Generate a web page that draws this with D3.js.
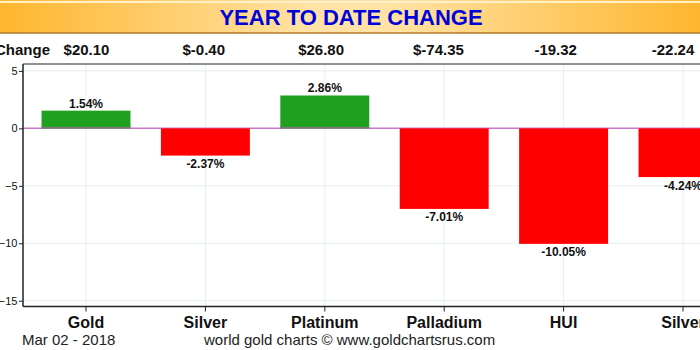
<!DOCTYPE html>
<html>
<head>
<meta charset="utf-8">
<script src="https://cdn.jsdelivr.net/npm/d3@7"></script>
<style>
  html, body { margin: 0; padding: 0; background: #fff; overflow: hidden; }
  svg { display: block; }
</style>
</head>
<body>
<svg id="chart" width="700" height="350"></svg>
<script>
// Year-to-date change by metal / index
const categories = ["Gold", "Silver", "Platinum", "Palladium", "HUI", "Silver"];
const pctChange = [1.54, -2.37, 2.86, -7.01, -10.05, -4.24];
const pctLabels = ["1.54%", "-2.37%", "2.86%", "-7.01%", "-10.05%", "-4.24%"];
const absChange = ["$20.10", "$-0.40", "$26.80", "$-74.35", "-19.32", "-22.24"];
const yTicks = [5, 0, -5, -10, -15];

const svg = d3.select("#chart");
const W = 700, H = 350;
const narrow = "'Liberation Sans Narrow', 'Arial Narrow', 'Liberation Sans', Arial, sans-serif";
const sans = "'Liberation Sans', Arial, sans-serif";

// Header band with an orange gradient
const defs = svg.append("defs");
const grad = defs.append("linearGradient").attr("id", "band").attr("x1", "0").attr("x2", "1");
grad.append("stop").attr("offset", "0%").attr("stop-color", "#ffb62e");
grad.append("stop").attr("offset", "45%").attr("stop-color", "#ffe3a6");
grad.append("stop").attr("offset", "55%").attr("stop-color", "#ffe3a6");
grad.append("stop").attr("offset", "100%").attr("stop-color", "#ffb62e");
svg.append("rect").attr("x", 0).attr("y", 0).attr("width", W).attr("height", 33).attr("fill", "url(#band)");
svg.append("line").attr("x1", 0).attr("x2", W).attr("y1", 2).attr("y2", 2).attr("stroke", "#fff0c8").attr("stroke-width", 2);
svg.append("line").attr("x1", 0).attr("x2", W).attr("y1", 33).attr("y2", 33).attr("stroke", "#b07a2a").attr("stroke-width", 1.5);

svg.append("text")
  .attr("x", 351).attr("y", 25)
  .attr("text-anchor", "middle")
  .attr("font-family", sans).attr("font-weight", "bold").attr("font-size", 22)
  .attr("fill", "#0000d8")
  .text("YEAR TO DATE CHANGE");

// Plot area
const plot = { left: 23, top: 64, bottom: 306.5, right: 743 };

const x = d3.scaleBand()
  .domain(d3.range(categories.length))
  .range([26.3, 26.3 + 119.4 * categories.length])
  .paddingInner(0.255)
  .paddingOuter(0.1275);

const y = d3.scaleLinear().domain([-15.5, 5.6]).range([plot.bottom, plot.top]);

const cx = i => x(i) + x.bandwidth() / 2;

// The change row above the plot uses its own column spacing
const xRow = d3.scalePoint().domain(d3.range(absChange.length)).range([86.5, 673]);

// Grid
const g = svg.append("g");
g.selectAll("line.hgrid").data(yTicks.filter(d => d !== 0)).join("line")
  .attr("x1", plot.left).attr("x2", plot.right)
  .attr("y1", d => y(d)).attr("y2", d => y(d))
  .attr("stroke", "#e6eff5").attr("stroke-width", 1);
g.selectAll("line.vgrid").data(d3.range(categories.length)).join("line")
  .attr("x1", cx).attr("x2", cx)
  .attr("y1", plot.top).attr("y2", plot.bottom)
  .attr("stroke", "#e6eff5").attr("stroke-width", 1);

// Zero line
g.append("line")
  .attr("x1", plot.left).attr("x2", plot.right)
  .attr("y1", y(0)).attr("y2", y(0))
  .attr("stroke", "#cc77cc").attr("stroke-width", 1.5);

// Bars
g.selectAll("rect.bar").data(pctChange).join("rect")
  .attr("x", (d, i) => x(i))
  .attr("width", x.bandwidth())
  .attr("y", d => y(Math.max(0, d)))
  .attr("height", d => Math.abs(y(d) - y(0)))
  .attr("fill", d => d >= 0 ? "#1fa01f" : "#ff0000");

// Soft grey foot under positive bars
g.selectAll("rect.foot").data(pctChange.map((d, i) => [d, i]).filter(p => p[0] > 0)).join("rect")
  .attr("x", p => x(p[1]))
  .attr("width", x.bandwidth())
  .attr("y", y(0) - 1.5)
  .attr("height", 1.5)
  .attr("fill", "#7a7a7a");

// Percentage labels
g.selectAll("text.pct").data(pctChange).join("text")
  .attr("x", (d, i) => cx(i))
  .attr("y", d => d >= 0 ? y(d) - 3 : y(d) + 12.5)
  .attr("text-anchor", "middle")
  .attr("font-family", sans).attr("font-weight", "bold").attr("font-size", 12)
  .attr("fill", "#111")
  .text((d, i) => pctLabels[i]);

// Frame
svg.append("line").attr("x1", plot.left).attr("x2", plot.right).attr("y1", plot.top).attr("y2", plot.top).attr("stroke", "#222").attr("stroke-width", 1.2);

// Y axis
const yAxis = svg.append("g")
  .attr("transform", `translate(${plot.left},0)`)
  .call(d3.axisLeft(y).tickValues(yTicks).tickSize(4).tickSizeOuter(0).tickFormat(d3.format("d")));
yAxis.select(".domain").attr("stroke", "#222").attr("stroke-width", 1.5)
  .attr("d", `M0,${plot.top}V${plot.bottom}`);
yAxis.selectAll(".tick line").attr("stroke", "#222");
yAxis.selectAll(".tick text")
  .attr("font-family", sans).attr("font-size", 11).attr("fill", "#111").attr("x", -5.5);

// X axis
const xAxis = svg.append("g")
  .attr("transform", `translate(0,${plot.bottom})`)
  .call(d3.axisBottom(x).tickSize(5).tickSizeOuter(0).tickFormat(i => categories[i]));
xAxis.select(".domain").attr("stroke", "#222").attr("stroke-width", 1.5)
  .attr("d", `M${plot.left},0H${plot.right}`);
xAxis.selectAll(".tick line").attr("stroke", "#222");
xAxis.selectAll(".tick text")
  .attr("font-family", narrow).attr("font-weight", "bold").attr("font-size", 16)
  .attr("fill", "#111").attr("dy", 0).attr("y", 21);

// Absolute change row
svg.append("text")
  .attr("x", 50).attr("y", 55)
  .attr("text-anchor", "end")
  .attr("font-family", narrow).attr("font-weight", "bold").attr("font-size", 15)
  .attr("fill", "#111").text("Change");
svg.selectAll("text.abs").data(absChange).join("text")
  .attr("x", (d, i) => xRow(i))
  .attr("y", 55)
  .attr("text-anchor", "middle")
  .attr("font-family", narrow).attr("font-weight", "bold").attr("font-size", 15)
  .attr("fill", "#111").text(d => d);

// Footer
svg.append("text")
  .attr("x", 22).attr("y", 345)
  .attr("font-family", narrow).attr("font-size", 15).attr("fill", "#222")
  .text("Mar 02 - 2018");
svg.append("text")
  .attr("x", 204).attr("y", 345)
  .attr("font-family", narrow).attr("font-size", 15).attr("fill", "#222")
  .text("world gold charts © www.goldchartsrus.com");
</script>
</body>
</html>
